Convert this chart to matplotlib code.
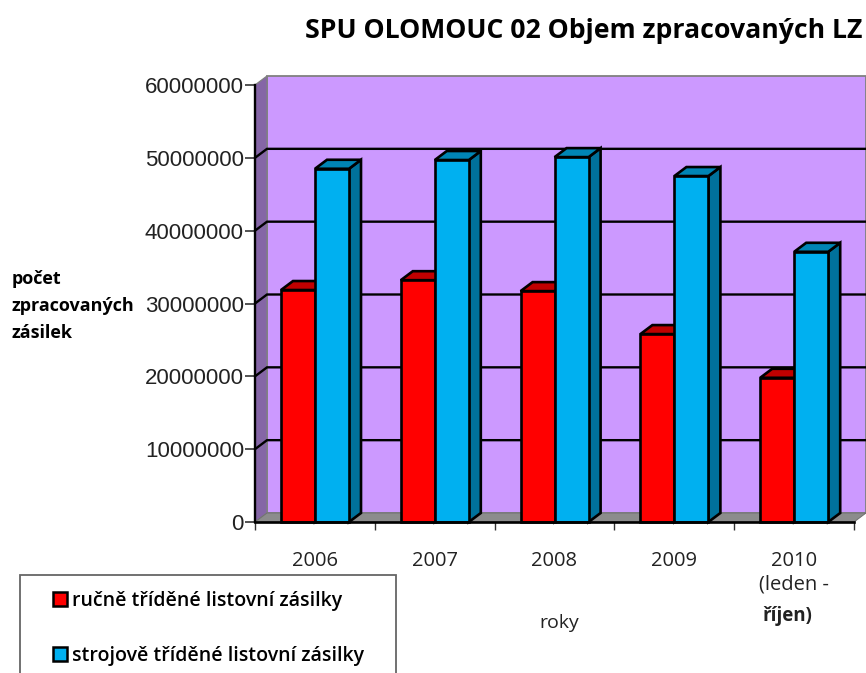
import matplotlib
matplotlib.use("Agg")
import matplotlib.pyplot as plt
from matplotlib.patches import Polygon, Rectangle, Patch
from matplotlib.transforms import IdentityTransform
import numpy as np

years = ["2006", "2007", "2008", "2009", "2010\n(leden -"]
manual = [31850000, 33200000, 31700000, 25800000, 19800000]
machine = [48500000, 49700000, 50100000, 47500000, 37100000]
yticks = [0, 10000000, 20000000, 30000000, 40000000, 50000000, 60000000]
title = "SPU OLOMOUC 02 Objem zpracovaných LZ"
ylabel_lines = ["počet", "zpracovaných", "zásilek"]
legend_labels = ["ručně tříděné listovní zásilky", "strojově tříděné listovní zásilky"]

W, H = 866, 673
DX, DY = 12, 9
RED, RED_TOP = "#FF0000", "#C00000"
BLUE, BLUE_TOP, BLUE_SIDE = "#00B0F0", "#0085B5", "#00719B"
WALL, SIDEWALL, FLOOR = "#CC99FF", "#8566A6", "#8C8C8C"

fig = plt.figure(figsize=(W / 100, H / 100), dpi=100, facecolor="white")
ax = fig.add_axes([255 / W, (H - 522) / H, (854 - 255) / W, (522 - 85) / H])
ax.set_xlim(0, 5)
ax.set_ylim(0, 60000000)
ax.patch.set_alpha(0)

def px(x, y):
    return ax.transData.transform((x, y))
def poly(points, **kw):
    p = Polygon(points, closed=True, transform=IdentityTransform(), clip_on=False, **kw)
    ax.add_patch(p)

# back wall, side wall and floor
p0, p1 = px(0, 0), px(5, 0)
t0, t1 = px(0, 60000000), px(5, 60000000)
off = np.array([DX, DY])
poly([p0 + off, p1 + off, t1 + off, t0 + off], facecolor=WALL, edgecolor="#808080", lw=1.3, zorder=0.5)
poly([p0, p0 + off, t0 + off, t0], facecolor=SIDEWALL, edgecolor="#808080", lw=0.9, zorder=0.6)
poly([p0, p1, p1 + off, p0 + off], facecolor=FLOOR, edgecolor="#707070", lw=0.7, zorder=0.7)

# gridlines
for v in yticks[1:-1]:
    a = px(0, v)
    b = px(5, v)
    ax.plot([a[0], a[0] + DX, b[0] + DX], [a[1], a[1] + DY, b[1] + DY], color="black", lw=1.7,
            transform=IdentityTransform(), clip_on=False, zorder=1, solid_joinstyle="miter")

# bars
x = np.arange(len(years))
bw = 34 / (854 - 255) * 5
gap = 26 / (854 - 255) * 5
EDGE = 1.9

def bar3d(x0, v, front, top, side, z):
    ax.bar(x0, v, width=bw, align="edge", color=front, edgecolor="black", lw=EDGE, zorder=z + 0.02, clip_on=False)
    a, b = px(x0, 0), px(x0 + bw, v)
    l, r, y0, y1 = a[0], b[0], a[1], b[1]
    poly([(r, y0), (r + DX, y0 + DY), (r + DX, y1 + DY), (r, y1)], facecolor=side, edgecolor="black", lw=EDGE, zorder=z, joinstyle="miter")
    poly([(l, y1), (r, y1), (r + DX, y1 + DY), (l + DX, y1 + DY)], facecolor=top, edgecolor="black", lw=EDGE, zorder=z, joinstyle="miter")

for i in x:
    bar3d(i + gap, manual[i], RED, RED_TOP, "#A00000", 2 + i * 0.1)
    bar3d(i + gap + bw, machine[i], BLUE, BLUE_TOP, BLUE_SIDE, 2.05 + i * 0.1)

# axes
for s in ["top", "right"]:
    ax.spines[s].set_visible(False)
ax.spines["left"].set_linewidth(1.7)
ax.spines["bottom"].set_linewidth(1.9)
ax.spines["left"].set_zorder(5)
ax.spines["bottom"].set_zorder(5)
ax.set_yticks(yticks)
ax.set_yticklabels([str(v) for v in yticks], fontsize=16, family="Liberation Sans", color="#222222")
ax.tick_params(axis="y", length=7, width=1.3, color="#444444", pad=1)
ax.set_xticks(np.arange(6))
ax.set_xticklabels([""] * 6)
ax.tick_params(axis="x", length=6, width=1, color="#333333")
for i, y in enumerate(years):
    ax.text(i + 0.5, 1 - (551 - 85) / 437, y, transform=ax.get_xaxis_transform(), ha="center", va="top",
            fontsize=14.5, family="Open Sans", color="#222222", linespacing=1.25)
fig.text(787 / W, 1 - 616 / H, "říjen)", ha="center", va="center", fontsize=13.5, family="Open Sans", fontweight="bold", color="#222222")
fig.text(559 / W, 1 - 623 / H, "roky", ha="center", va="center", fontsize=14, family="Open Sans", color="#222222")

# title and y label
fig.text(862 / W, 1 - 31 / H, title, ha="right", va="center", fontsize=19.2, family="Open Sans", fontweight="bold", color="black")
for line, yp in zip(ylabel_lines, [279, 306, 333]):
    fig.text(12 / W, 1 - yp / H, line, ha="left", va="center", fontsize=13, family="Open Sans", fontweight="bold", color="black")

# legend
fig.add_artist(Rectangle((20 / W, -0.02), (396 - 20) / W, 0.02 + (H - 575) / H, transform=fig.transFigure,
                         facecolor="white", edgecolor="#666666", lw=1.3))
handles = [Patch(facecolor=RED, edgecolor="black", lw=1.8), Patch(facecolor=BLUE, edgecolor="black", lw=1.8)]
fig.legend(handles, legend_labels, loc="upper left", bbox_to_anchor=(53 / W, 1 - 591 / H), frameon=False,
           prop={"family": "Open Sans", "weight": "semibold", "size": 14}, handlelength=0.7, handleheight=0.7,
           handletextpad=0.3, labelspacing=1.78, borderpad=0, borderaxespad=0)

fig.savefig("out.png", dpi=100)
